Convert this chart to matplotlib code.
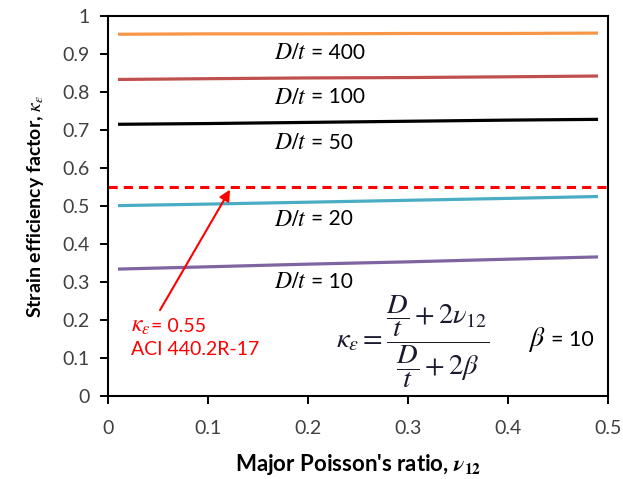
import matplotlib.pyplot as plt
import numpy as np

plt.rcParams['font.family'] = ['Lato', 'DejaVu Sans']
plt.rcParams['mathtext.fontset'] = 'stix'

# Poisson's ratio sample points
nu = [0.01, 0.1, 0.2, 0.3, 0.4, 0.49]

# strain efficiency factor, one list per D/t
k_400 = [0.952, 0.953, 0.953, 0.954, 0.954, 0.955]
k_100 = [0.833, 0.835, 0.837, 0.838, 0.840, 0.842]
k_50 = [0.715, 0.717, 0.720, 0.723, 0.726, 0.728]
k_20 = [0.501, 0.505, 0.510, 0.515, 0.520, 0.525]
k_10 = [0.334, 0.340, 0.347, 0.353, 0.360, 0.366]

aci_limit = 0.55

series = [
    (k_400, '#F79646', '400', 0.903),
    (k_100, '#C0504D', '100', 0.786),
    (k_50, '#000000', '50', 0.667),
    (k_20, '#4BACC6', '20', 0.465),
    (k_10, '#8064A2', '10', 0.300),
]


def math_then_text(ax, x, y, math, txt, msize, tsize, color='black', gap=3):
    # italic math part followed by plain text, placed right after it
    t = ax.text(x, y, math, fontsize=msize, va='center', ha='left', color=color)
    ax.annotate(txt, xy=(1, 0.5), xycoords=t, xytext=(gap, 0),
                textcoords='offset points', fontsize=tsize, va='center',
                ha='left', color=color)


fig = plt.figure(figsize=(6.23, 4.79), dpi=100)
ax = fig.add_axes([0.1734, 0.1733, 0.8026, 0.7933])

for vals, col, dt, ylab in series:
    ax.plot(nu, vals, color=col, linewidth=2.3, solid_capstyle='butt')
    math_then_text(ax, 0.166, ylab, r'$D/t$', '= ' + dt, 17, 15)

ax.axhline(aci_limit, color='#FF0000', linestyle=(0, (3, 2)), linewidth=2.2)

ax.annotate('', xy=(0.122, 0.543), xytext=(0.052, 0.226),
            arrowprops=dict(arrowstyle='-|>', color='#FF0000', lw=1.5,
                            mutation_scale=16, shrinkA=0, shrinkB=0))
math_then_text(ax, 0.023, 0.184, r'$\kappa_\varepsilon$', '= 0.55', 17, 14,
               color='#FF0000', gap=0)
ax.text(0.023, 0.122, 'ACI 440.2R-17', color='#FF0000', fontsize=14, va='center')

ax.text(0.228, 0.142,
        r'$\kappa_\varepsilon = \dfrac{\dfrac{D}{t} + 2\nu_{12}}{\dfrac{D}{t} + 2\beta}$',
        fontsize=20.5, va='center', ha='left', color='#1a1a2e')
math_then_text(ax, 0.42, 0.148, r'$\beta$', '= 10', 20, 15.5, gap=4)

ax.set_xlim(0, 0.5)
ax.set_ylim(0, 1)
ax.set_xticks(np.arange(0, 0.51, 0.1))
ax.set_xticklabels(['0', '0.1', '0.2', '0.3', '0.4', '0.5'])
ax.set_yticks(np.arange(0, 1.01, 0.1))
ax.set_yticklabels(['0', '0.1', '0.2', '0.3', '0.4', '0.5', '0.6', '0.7', '0.8', '0.9', '1'])
ax.tick_params(labelsize=14, length=6, width=1.4, color='black', labelcolor='#404040')
ax.tick_params(axis='x', pad=11)
ax.tick_params(axis='y', pad=7)

for sp in ax.spines.values():
    sp.set_linewidth(1.5)

ax.set_xlabel(r"Major Poisson's ratio, $\boldsymbol{\nu}_{\mathbf{12}}$", fontsize=16,
              fontweight='bold', labelpad=11)
ax.set_ylabel(r'Strain efficiency factor, $\kappa_\varepsilon$', fontsize=14,
              fontweight='bold', labelpad=12)

fig.savefig('out.png', dpi=100)
